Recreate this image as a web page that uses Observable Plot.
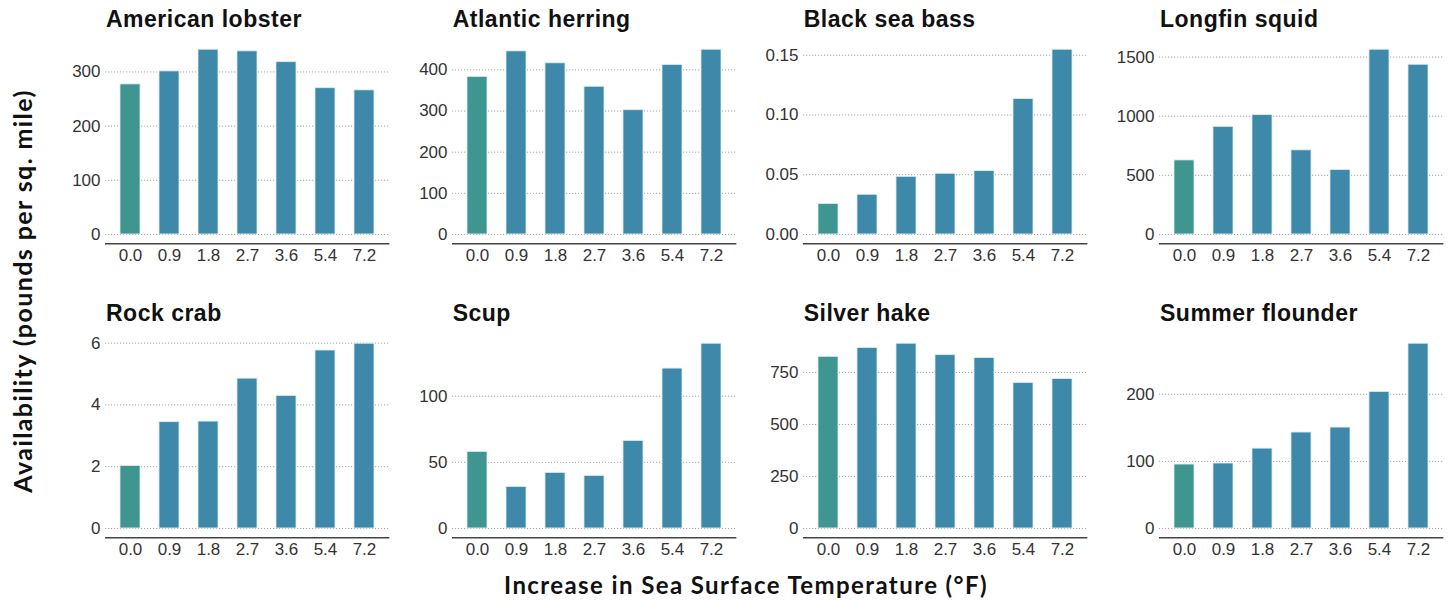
<!DOCTYPE html>
<html>
<head>
<meta charset="utf-8">
<script src="https://cdn.jsdelivr.net/npm/d3@7"></script>
<script src="https://cdn.jsdelivr.net/npm/@observablehq/plot@0.6"></script>
<style>
  html, body { margin: 0; padding: 0; background: #fff; }
  #chart { position: relative; width: 1455px; height: 600px; overflow: hidden; }
  .panel { position: absolute; }
  .ptitle { position: absolute; font-family: "Liberation Sans", Arial, Helvetica, sans-serif; font-weight: bold; font-size: 23px; color: #111; white-space: nowrap; line-height: 1; letter-spacing: 0.5px; }
  .axtitle { position: absolute; font-family: Lato, "Open Sans", sans-serif; font-weight: 700; font-size: 24px; color: #111; white-space: nowrap; line-height: 1; letter-spacing: 1.4px; }
  .axtitle.y { font-size: 25px; letter-spacing: 1.4px; }
</style>
</head>
<body>
<div id="chart"></div>
<script>
// ---- data ----
const temps = ["0.0", "0.9", "1.8", "2.7", "3.6", "5.4", "7.2"];
const species = ["American lobster", "Atlantic herring", "Black sea bass", "Longfin squid",
                 "Rock crab", "Scup", "Silver hake", "Summer flounder"];
const lobster  = [277, 301, 341, 338, 318, 270, 266];
const herring  = [383, 445, 416, 359, 302, 412, 449];
const seaBass  = [0.0254, 0.0332, 0.0482, 0.0508, 0.0530, 0.1133, 0.1546];
const squid    = [626, 910, 1009, 711, 544, 1562, 1435];
const rockCrab = [2.02, 3.44, 3.46, 4.85, 4.29, 5.76, 5.98];
const scup     = [57.9, 31.4, 42.0, 39.7, 66.2, 120.9, 139.7];
const hake     = [825, 867, 888, 833, 819, 699, 718];
const flounder = [95.3, 96.8, 119, 143, 150.4, 203.4, 275.4];

const lobsterTicks  = [0, 100, 200, 300];
const herringTicks  = [0, 100, 200, 300, 400];
const seaBassTicks  = [0, 0.05, 0.10, 0.15];
const squidTicks    = [0, 500, 1000, 1500];
const rockCrabTicks = [0, 2, 4, 6];
const scupTicks     = [0, 50, 100];
const hakeTicks     = [0, 250, 500, 750];
const flounderTicks = [0, 100, 200];

const seaBassLabels = ["0.00", "0.05", "0.10", "0.15"];

const xTitle = "Increase in Sea Surface Temperature (°F)";
const yTitle = "Availability (pounds per sq. mile)";

// ---- layout ----
const TEAL = "#3f958f", BLUE = "#3e88a9";
const colLeft = [105, 451.7, 802.7, 1159];
const rowTop = [39.5, 334];
const PW = 284.4, PH = 203.2;
const ML = 70, MR = 4, MT = 2, MB = 34;
const FS = 17;

const seriesList = [lobster, herring, seaBass, squid, rockCrab, scup, hake, flounder];
const tickList = [lobsterTicks, herringTicks, seaBassTicks, squidTicks, rockCrabTicks, scupTicks, hakeTicks, flounderTicks];
const labelList = [null, null, seaBassLabels, null, null, null, null, null];

const chart = document.getElementById("chart");

species.forEach((name, k) => {
  const col = k % 4, row = Math.floor(k / 4);
  const values = seriesList[k];
  const ticks = tickList[k];
  const labels = labelList[k];
  const max = d3.max(values);
  const lo = -0.05 * max, hi = 1.05 * max;
  const data = temps.map((t, i) => ({t, v: values[i], i}));
  const fmt = labels ? (d => labels[ticks.indexOf(d)]) : (d => String(d));

  const svg = Plot.plot({
    width: ML + PW + MR,
    height: MT + PH + MB,
    marginLeft: ML, marginRight: MR, marginTop: MT, marginBottom: MB,
    style: {fontFamily: "'Liberation Sans', Arial, Helvetica, sans-serif", fontSize: FS + "px", color: "#333", background: "transparent", overflow: "visible"},
    x: {type: "band", domain: temps, paddingInner: 0.5, paddingOuter: 0.35},
    y: {domain: [lo, hi]},
    marks: [
      Plot.gridY(ticks, {stroke: "#9a9a9a", strokeOpacity: 1, strokeWidth: 0.9, strokeDasharray: "1.2,1.8"}),
      Plot.barY(data, {filter: d => d.i === 0, x: "t", y1: 0, y2: "v", fill: TEAL, stroke: "#dcecf1", strokeWidth: 0.8}),
      Plot.barY(data, {filter: d => d.i > 0, x: "t", y1: 0, y2: "v", fill: BLUE, stroke: "#dcecf1", strokeWidth: 0.8}),
      Plot.ruleY([lo], {stroke: "#444", strokeWidth: 1.4}),
      Plot.axisY(ticks, {tickSize: 0, tickPadding: 5, tickFormat: fmt, label: null, fill: "#333", fontSize: FS}),
      Plot.axisX({tickSize: 0, tickPadding: 5, label: null, fill: "#333", fontSize: FS})
    ]
  });
  const wrap = document.createElement("div");
  wrap.className = "panel";
  wrap.style.left = (colLeft[col] - ML) + "px";
  wrap.style.top = (rowTop[row] - MT) + "px";
  wrap.appendChild(svg);
  chart.appendChild(wrap);

  const t = document.createElement("div");
  t.className = "ptitle";
  t.textContent = name;
  t.style.left = (colLeft[col] + 1) + "px";
  t.style.top = (rowTop[row] - 32) + "px";
  chart.appendChild(t);
});

const xt = document.createElement("div");
xt.className = "axtitle";
xt.textContent = xTitle;
xt.style.left = "746px";
xt.style.top = "573px";
xt.style.transform = "translateX(-50%)";
chart.appendChild(xt);

const yt = document.createElement("div");
yt.className = "axtitle y";
yt.textContent = yTitle;
yt.style.left = "22px";
yt.style.top = "291px";
yt.style.transform = "translate(-50%, -50%) rotate(-90deg)";
chart.appendChild(yt);
</script>
</body>
</html>
